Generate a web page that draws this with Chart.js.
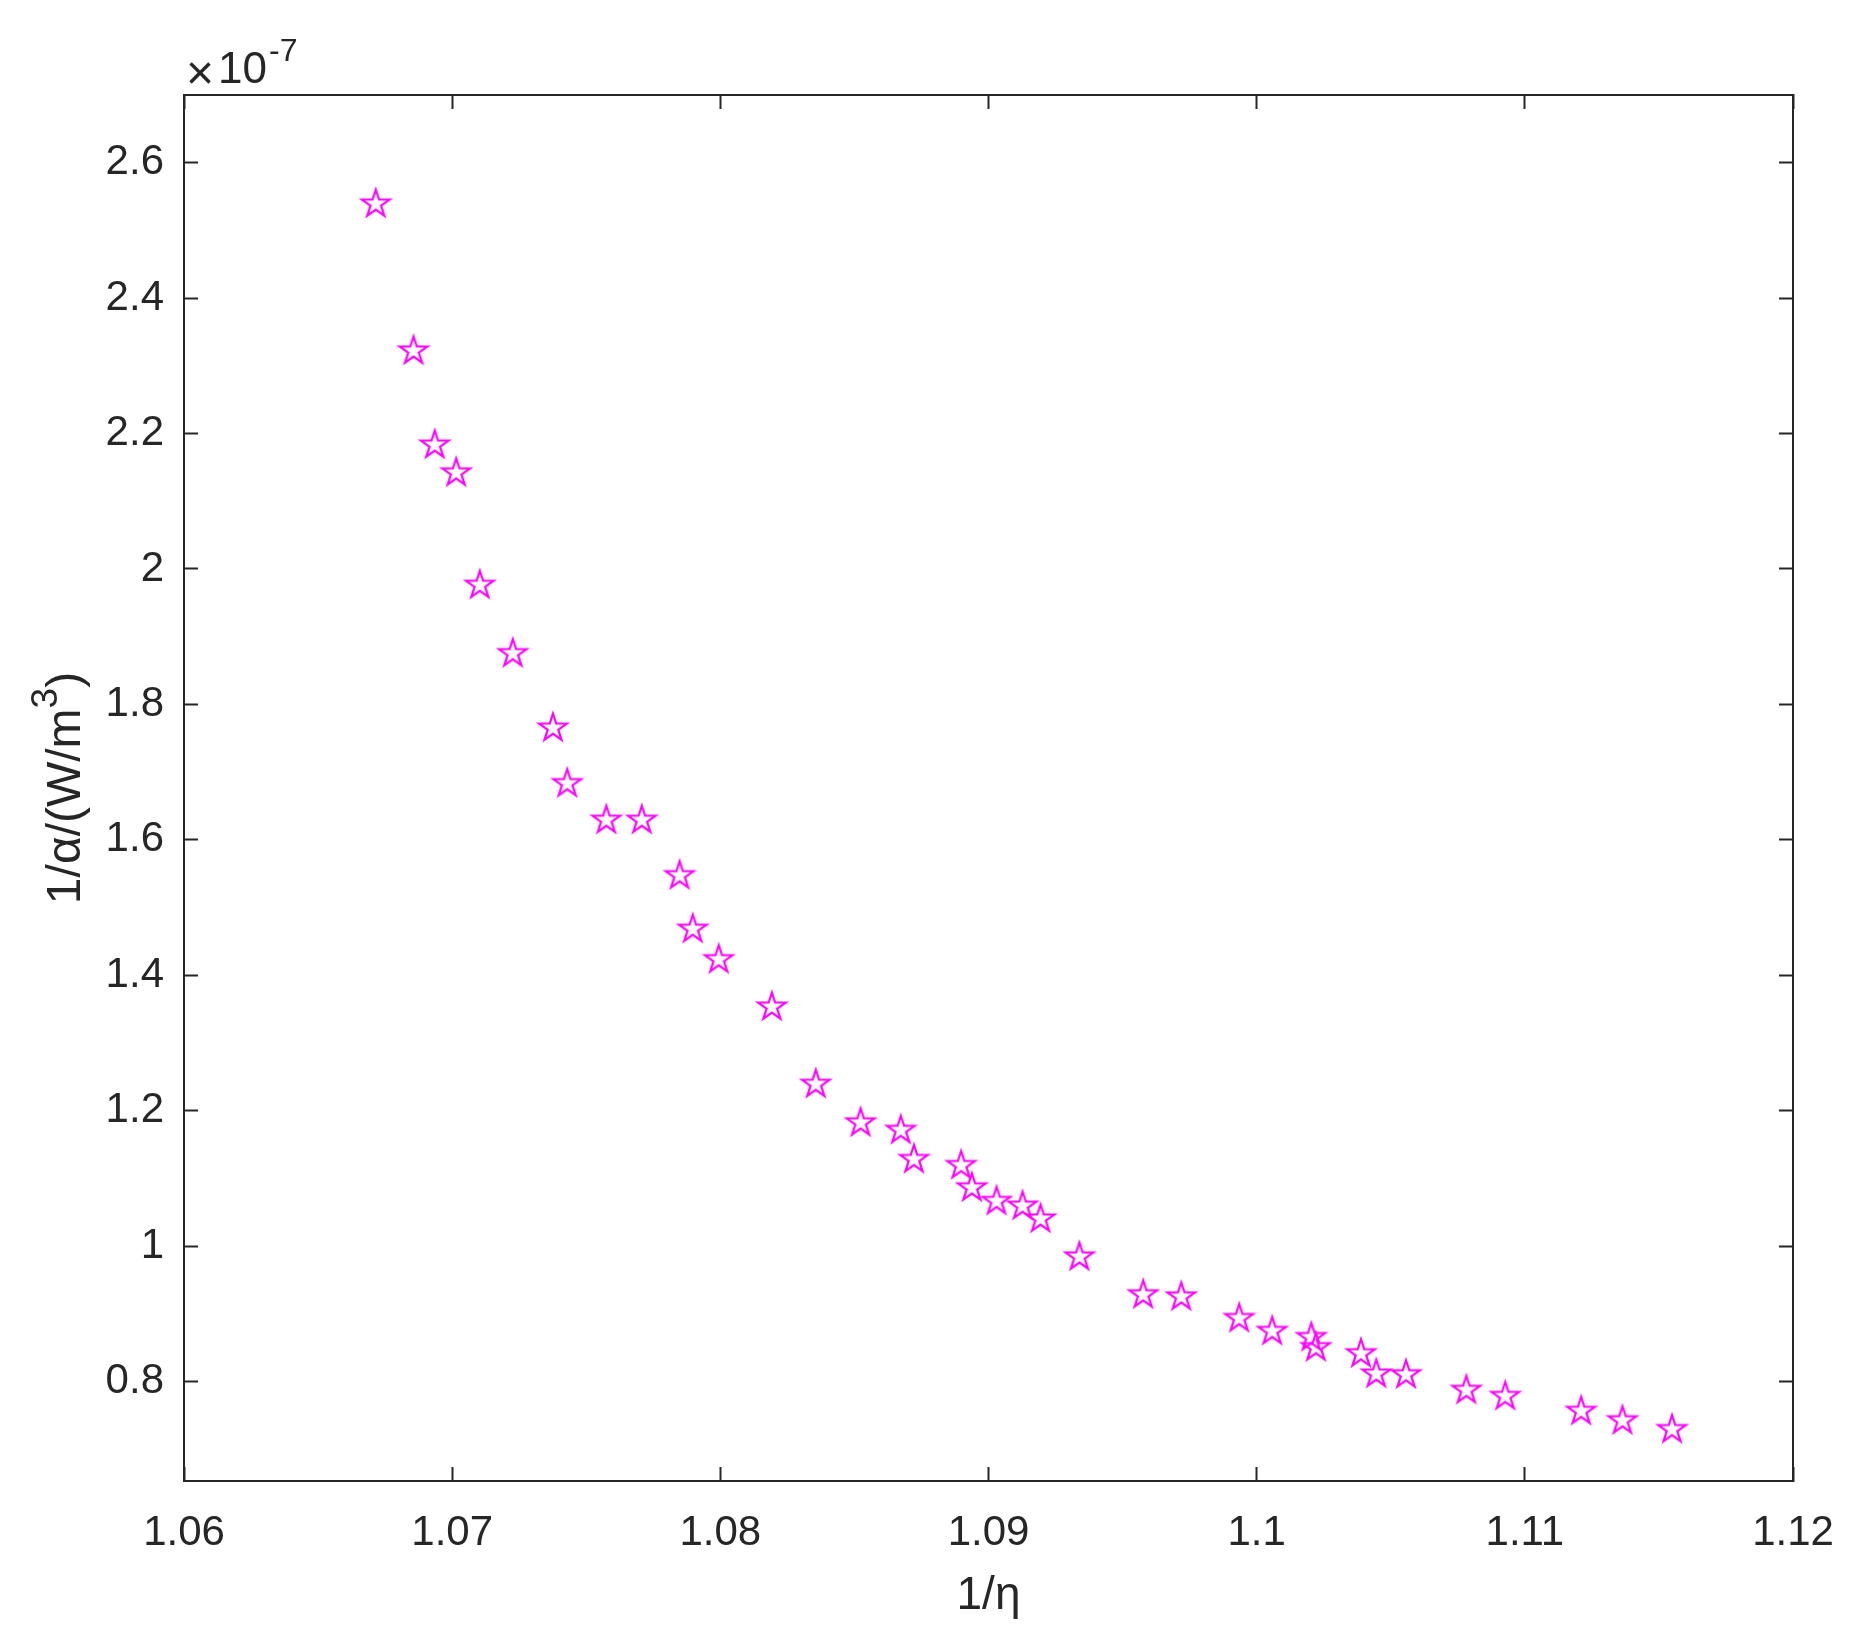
<!DOCTYPE html>
<html>
<head>
<meta charset="utf-8">
<style>
  html, body { margin: 0; padding: 0; background: #fff; }
  #wrap { width: 1855px; height: 1644px; }
</style>
<script src="https://cdn.jsdelivr.net/npm/chart.js@4.4.1/dist/chart.umd.min.js"></script>
</head>
<body>
<div id="wrap"><canvas id="efficiencyChart" width="1855" height="1644"></canvas></div>
<script>
// x values: 1/eta
var invEta = [
    1.06715, 1.06856, 1.06935, 1.07015, 1.07103, 1.07226, 1.07376, 1.07429,
    1.07575, 1.07707, 1.07848, 1.07897, 1.07994, 1.08192, 1.08356, 1.08523,
    1.08673, 1.08722, 1.08898, 1.08938, 1.09030, 1.09127, 1.09194, 1.09339,
    1.09577, 1.09719, 1.09935, 1.10058, 1.10204, 1.10221, 1.10389, 1.10446,
    1.10557, 1.10782, 1.10927, 1.11210, 1.11364, 1.11549
];
// y values: 1/alpha, in units of 1e-7 W/m^3
var invAlpha = [
    2.539, 2.322, 2.183, 2.142, 1.976, 1.875, 1.765, 1.683,
    1.629, 1.629, 1.547, 1.468, 1.423, 1.353, 1.239, 1.182,
    1.171, 1.128, 1.119, 1.086, 1.066, 1.059, 1.040, 0.984,
    0.928, 0.925, 0.893, 0.874, 0.865, 0.850, 0.841, 0.811,
    0.810, 0.787, 0.778, 0.756, 0.742, 0.729
];
var xTicks = [1.06, 1.07, 1.08, 1.09, 1.10, 1.11, 1.12];
var yTicks = [0.8, 1.0, 1.2, 1.4, 1.6, 1.8, 2.0, 2.2, 2.4, 2.6];
var yExponent = '-7';
var xTitle = '1/\u03b7';
var yTitle = ['1/\u03b1/(W/m', '3', ')'];   // base text, superscript, tail

document.addEventListener('DOMContentLoaded', function () {
    var FONT = '"Liberation Sans", Arial, sans-serif';
    var INK = '#262626';

    // hollow five-point star used as the marker
    function makeStar(r, color, lw) {
        var size = Math.ceil(2 * r + lw * 2 + 4);
        var c = document.createElement('canvas');
        c.width = size; c.height = size;
        var g = c.getContext('2d');
        var cx = size / 2, cy = size / 2, inner = r * 0.382;
        g.beginPath();
        for (var i = 0; i < 10; i++) {
            var rad = i % 2 === 0 ? r : inner;
            var a = -Math.PI / 2 + i * Math.PI / 5;
            var px = cx + rad * Math.cos(a), py = cy + rad * Math.sin(a);
            if (i === 0) g.moveTo(px, py); else g.lineTo(px, py);
        }
        g.closePath();
        g.strokeStyle = color;
        g.lineWidth = lw;
        g.lineJoin = 'miter';
        g.stroke();
        return c;
    }
    var star = makeStar(14.5, '#ff00ff', 2.2);

    function fmt(v) { return String(parseFloat(Number(v).toFixed(2))); }

    var tickGrid = { drawOnChartArea: false, drawTicks: true, tickLength: -14, tickWidth: 2, tickColor: INK };
    var axisBorder = { display: true, color: INK, width: 2 };

    // "x10^-7" multiplier and the y title with its superscript
    var extraText = {
        id: 'extraText',
        afterDraw: function (chart) {
            var ctx = chart.ctx, area = chart.chartArea;
            var left = area.left, top = area.top;
            ctx.save();
            ctx.fillStyle = INK;
            ctx.textBaseline = 'alphabetic';
            ctx.textAlign = 'left';
            ctx.font = '48px ' + FONT;
            ctx.fillText('\u00d7', left + 2, top - 6);
            ctx.font = '44px ' + FONT;
            ctx.fillText('10', left + 34, top - 12);
            ctx.font = '32px ' + FONT;
            ctx.fillText(yExponent, left + 85, top - 34);

            // rotated y title
            var big = '48px ' + FONT, small = '37px ' + FONT;
            ctx.font = big;
            var w0 = ctx.measureText(yTitle[0]).width;
            var w2 = ctx.measureText(yTitle[2]).width;
            ctx.font = small;
            var w1 = ctx.measureText(yTitle[1]).width;
            var total = w0 + w1 + w2;
            ctx.translate(80, (area.top + area.bottom) / 2);
            ctx.rotate(-Math.PI / 2);
            var x = -total / 2;
            ctx.font = big;
            ctx.fillText(yTitle[0], x, 0);
            ctx.font = small;
            ctx.fillText(yTitle[1], x + w0, -23);
            ctx.font = big;
            ctx.fillText(yTitle[2], x + w0 + w1, 0);
            ctx.restore();
        }
    };

    var ctx = document.getElementById('efficiencyChart').getContext('2d');
    new Chart(ctx, {
        type: 'scatter',
        data: {
            datasets: [{
                data: invEta.map(function (x, i) { return { x: x, y: invAlpha[i] }; }),
                pointStyle: star,
                pointRadius: 15,
                borderColor: '#ff00ff',
                backgroundColor: 'rgba(0,0,0,0)'
            }]
        },
        options: {
            responsive: false,
            animation: false,
            devicePixelRatio: 1,
            layout: { padding: { top: 95, right: 0, left: 0, bottom: 0 } },
            plugins: { legend: { display: false }, tooltip: { enabled: false } },
            scales: {
                x: {
                    type: 'linear', position: 'bottom', min: 1.06, max: 1.12,
                    afterBuildTicks: function (s) { s.ticks = xTicks.map(function (v) { return { value: v }; }); },
                    afterFit: function (s) { s.height = 163; s.paddingLeft = 0; s.paddingRight = 0; },
                    ticks: { callback: fmt, color: INK, font: { family: FONT, size: 42 }, padding: 41, maxRotation: 0, autoSkip: false },
                    grid: tickGrid, border: axisBorder,
                    title: { display: true, text: xTitle, color: INK, font: { family: FONT, size: 46 }, padding: { top: 0, bottom: 20 } }
                },
                y: {
                    type: 'linear', position: 'left', min: 0.653, max: 2.70,
                    afterBuildTicks: function (s) { s.ticks = yTicks.map(function (v) { return { value: v }; }); },
                    afterFit: function (s) { s.width = 184; s.paddingTop = 0; s.paddingBottom = 0; },
                    ticks: { callback: fmt, color: INK, font: { family: FONT, size: 42 }, padding: 34, autoSkip: false },
                    grid: tickGrid, border: axisBorder
                },
                x2: {
                    type: 'linear', position: 'top', min: 1.06, max: 1.12,
                    afterBuildTicks: function (s) { s.ticks = xTicks.map(function (v) { return { value: v }; }); },
                    afterFit: function (s) { s.height = 0; s.paddingLeft = 0; s.paddingRight = 0; },
                    ticks: { display: false },
                    grid: tickGrid, border: axisBorder
                },
                y2: {
                    type: 'linear', position: 'right', min: 0.653, max: 2.70,
                    afterBuildTicks: function (s) { s.ticks = yTicks.map(function (v) { return { value: v }; }); },
                    afterFit: function (s) { s.width = 62; s.paddingTop = 0; s.paddingBottom = 0; },
                    ticks: { display: false },
                    grid: tickGrid, border: axisBorder
                }
            }
        },
        plugins: [extraText]
    });
});
</script>
</body>
</html>
